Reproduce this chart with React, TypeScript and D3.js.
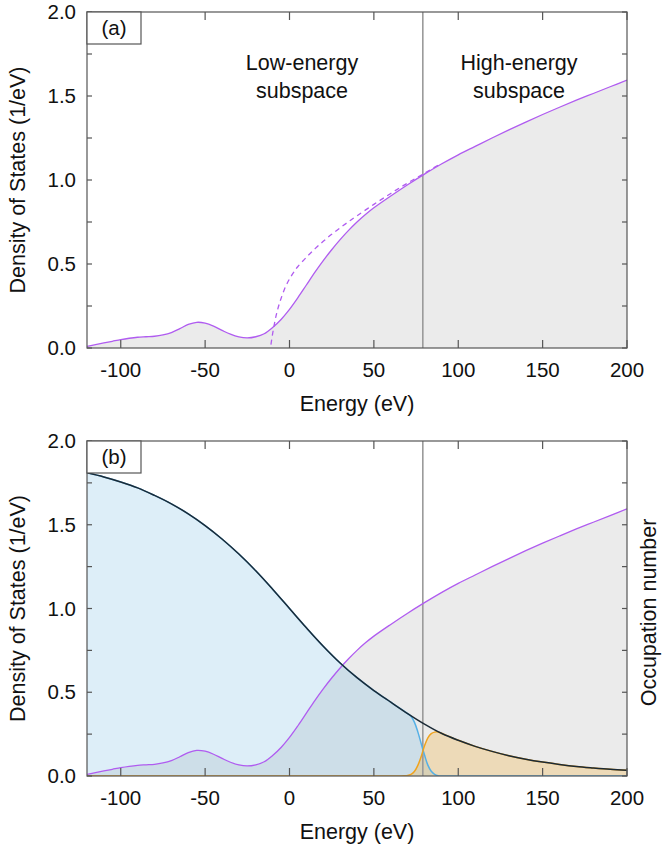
import React, { useEffect, useRef } from 'react';
import * as d3 from 'd3';

// density of states (solid purple)
const dosEnergy = [-120, -115, -110, -105, -100, -95, -90, -85, -80, -75, -70, -65, -60, -55, -50, -45, -40, -35, -30, -25, -20, -15, -10, -5, 0, 5, 10, 15, 20, 25, 30, 35, 40, 45, 50, 60, 70, 80, 90, 100, 110, 120, 130, 140, 150, 160, 170, 180, 190, 200];
const dosValue = [0.01, 0.02, 0.03, 0.04, 0.05, 0.058, 0.064, 0.067, 0.07, 0.078, 0.092, 0.115, 0.14, 0.153, 0.148, 0.13, 0.105, 0.082, 0.066, 0.06, 0.067, 0.085, 0.122, 0.17, 0.23, 0.3, 0.375, 0.45, 0.52, 0.585, 0.645, 0.7, 0.75, 0.795, 0.835, 0.905, 0.972, 1.035, 1.095, 1.15, 1.2, 1.25, 1.298, 1.345, 1.39, 1.433, 1.475, 1.515, 1.555, 1.595];

// free-electron DOS (dashed purple)
const freeEnergy = [-11, -10, -9, -8, -7, -6, -5, -3, -1, 1, 3, 5, 10, 15, 20, 25, 30, 35, 40, 50, 60, 70, 80, 90];
const freeValue = [0.02, 0.085, 0.14, 0.19, 0.23, 0.265, 0.295, 0.35, 0.393, 0.428, 0.458, 0.485, 0.54, 0.59, 0.635, 0.677, 0.715, 0.752, 0.787, 0.855, 0.92, 0.982, 1.04, 1.1];

// occupation number (black)
const occEnergy = [-120, -110, -100, -90, -80, -70, -60, -50, -40, -30, -20, -10, 0, 10, 20, 30, 40, 50, 60, 70, 80, 90, 100, 110, 120, 130, 140, 150, 160, 170, 180, 190, 200];
const occValue = [1.81, 1.785, 1.755, 1.72, 1.675, 1.625, 1.565, 1.495, 1.415, 1.325, 1.225, 1.115, 1.0, 0.885, 0.775, 0.675, 0.587, 0.51, 0.441, 0.373, 0.31, 0.255, 0.213, 0.177, 0.147, 0.121, 0.1, 0.083, 0.069, 0.057, 0.048, 0.04, 0.034];

// low-energy subspace occupation (blue)
const lowEnergy = [-120, -110, -100, -90, -80, -70, -60, -50, -40, -30, -20, -10, 0, 10, 20, 30, 40, 50, 60, 70, 72, 74, 76, 78, 80, 82, 84, 86, 88, 90, 100, 120, 160, 200];
const lowValue = [1.81, 1.785, 1.755, 1.72, 1.675, 1.625, 1.565, 1.495, 1.415, 1.325, 1.225, 1.115, 1.0, 0.885, 0.775, 0.675, 0.587, 0.51, 0.441, 0.373, 0.357, 0.322, 0.265, 0.195, 0.125, 0.065, 0.028, 0.01, 0.002, 0, 0, 0, 0, 0];

// high-energy subspace occupation (orange)
const highEnergy = [-120, -60, 0, 50, 66, 68, 70, 72, 74, 76, 78, 80, 82, 84, 86, 88, 90, 100, 110, 120, 130, 140, 150, 160, 170, 180, 190, 200];
const highValue = [0, 0, 0, 0, 0, 0.001, 0.003, 0.01, 0.027, 0.062, 0.115, 0.18, 0.228, 0.253, 0.262, 0.263, 0.255, 0.213, 0.177, 0.147, 0.121, 0.1, 0.083, 0.069, 0.057, 0.048, 0.04, 0.034];

const xTicks = [-100, -50, 0, 50, 100, 150, 200];
const yTicks = [0, 0.5, 1, 1.5, 2];
const yMinor = [0.25, 0.75, 1.25, 1.75];
const cutoffEnergy = 79;

const W = 663;
const H = 852;
const left = 87;
const right = 627;
const font = 'Liberation Sans, Arial, Helvetica, sans-serif';

type Pt = [number, number];
const zip = (xs: number[], ys: number[]): Pt[] => xs.map((x, i) => [x, ys[i]]);

function drawPanel(root: d3.Selection<SVGGElement, unknown, null, undefined>, top: number, bottom: number, label: string, detailed: boolean) {
  const x = d3.scaleLinear().domain([-120, 200]).range([left, right]);
  const y = d3.scaleLinear().domain([0, 2]).range([bottom, top]);
  const g = root.append('g');

  const curve = d3.curveCatmullRom.alpha(0.5);
  const line = d3.line<Pt>().x(d => x(d[0])).y(d => y(d[1])).curve(curve);
  const area = d3.area<Pt>().x(d => x(d[0])).y0(y(0)).y1(d => y(d[1])).curve(curve);

  const clipId = 'clip-' + label.replace(/\W/g, '');
  g.append('clipPath').attr('id', clipId).append('rect')
    .attr('x', left).attr('y', top).attr('width', right - left).attr('height', bottom - top);
  const plot = g.append('g').attr('clip-path', `url(#${clipId})`);

  const dos = zip(dosEnergy, dosValue);
  plot.append('path').datum(dos).attr('d', area).attr('fill', '#ebebeb');

  if (detailed) {
    plot.append('path').datum(zip(lowEnergy, lowValue)).attr('d', area)
      .attr('fill', 'rgb(101,178,223)').attr('fill-opacity', 0.22);
    plot.append('path').datum(zip(highEnergy, highValue)).attr('d', area)
      .attr('fill', 'rgb(242,185,78)').attr('fill-opacity', 0.32);
  }

  plot.append('line')
    .attr('x1', x(cutoffEnergy)).attr('x2', x(cutoffEnergy))
    .attr('y1', top).attr('y2', bottom)
    .attr('stroke', '#9a9a9a').attr('stroke-width', 1.6);

  if (!detailed) {
    plot.append('path').datum(zip(freeEnergy, freeValue)).attr('d', line)
      .attr('fill', 'none').attr('stroke', '#b05cf0').attr('stroke-width', 1.3)
      .attr('stroke-dasharray', '5,4');
  }
  plot.append('path').datum(dos).attr('d', line)
    .attr('fill', 'none').attr('stroke', '#b05cf0').attr('stroke-width', 1.3);

  if (detailed) {
    plot.append('path').datum(zip(lowEnergy, lowValue)).attr('d', line)
      .attr('fill', 'none').attr('stroke', '#55b0e6').attr('stroke-width', 1.5);
    plot.append('path').datum(zip(highEnergy, highValue)).attr('d', line)
      .attr('fill', 'none').attr('stroke', '#f0a31e').attr('stroke-width', 1.5);
    plot.append('path').datum(zip(occEnergy, occValue)).attr('d', line)
      .attr('fill', 'none').attr('stroke', '#1b2a36').attr('stroke-width', 1.5);
  }

  // frame and inward ticks
  const axisColor = '#555';
  g.append('rect').attr('x', left).attr('y', top).attr('width', right - left).attr('height', bottom - top)
    .attr('fill', 'none').attr('stroke', axisColor).attr('stroke-width', 1.2);

  xTicks.forEach(t => {
    g.append('line').attr('x1', x(t)).attr('x2', x(t)).attr('y1', bottom).attr('y2', bottom - 8)
      .attr('stroke', axisColor).attr('stroke-width', 1.2);
    g.append('line').attr('x1', x(t)).attr('x2', x(t)).attr('y1', top).attr('y2', top + 8)
      .attr('stroke', axisColor).attr('stroke-width', 1.2);
    g.append('text').attr('x', x(t)).attr('y', bottom + 29).attr('text-anchor', 'middle')
      .attr('font-family', font).attr('font-size', 20.5).attr('fill', '#111').text(String(t));
  });

  [...yTicks, ...yMinor].forEach(t => {
    g.append('line').attr('x1', left).attr('x2', left + 5).attr('y1', y(t)).attr('y2', y(t))
      .attr('stroke', axisColor).attr('stroke-width', 1.2);
    g.append('line').attr('x1', right).attr('x2', right - 5).attr('y1', y(t)).attr('y2', y(t))
      .attr('stroke', axisColor).attr('stroke-width', 1.2);
  });
  yTicks.forEach(t => {
    g.append('text').attr('x', 76).attr('y', y(t) + 7).attr('text-anchor', 'end')
      .attr('font-family', font).attr('font-size', 20.5).attr('fill', '#111').text(d3.format('.1f')(t));
  });

  g.append('text').attr('x', (left + right) / 2).attr('y', bottom + 63).attr('text-anchor', 'middle')
    .attr('font-family', font).attr('font-size', 21.5).attr('fill', '#111').text('Energy (eV)');
  g.append('text').attr('transform', `translate(25,${(top + bottom) / 2}) rotate(-90)`)
    .attr('text-anchor', 'middle').attr('font-family', font).attr('font-size', 21.5).attr('fill', '#111')
    .text('Density of States (1/eV)');

  if (detailed) {
    g.append('text').attr('transform', `translate(656,${(top + bottom) / 2 + 4}) rotate(-90)`)
      .attr('text-anchor', 'middle').attr('font-family', font).attr('font-size', 21.5).attr('fill', '#111')
      .text('Occupation number');
  } else {
    const notes: [number, string, string][] = [[302, 'Low-energy', 'subspace'], [519, 'High-energy', 'subspace']];
    notes.forEach(([cx, a, b]) => {
      g.append('text').attr('x', cx).attr('y', top + 58).attr('text-anchor', 'middle')
        .attr('font-family', font).attr('font-size', 21.5).attr('fill', '#111').text(a);
      g.append('text').attr('x', cx).attr('y', top + 86).attr('text-anchor', 'middle')
        .attr('font-family', font).attr('font-size', 21.5).attr('fill', '#111').text(b);
    });
  }

  // panel label box
  g.append('rect').attr('x', left).attr('y', top).attr('width', 54).attr('height', 32)
    .attr('fill', '#fff').attr('stroke', axisColor).attr('stroke-width', 1.2);
  g.append('text').attr('x', left + 27).attr('y', top + 23).attr('text-anchor', 'middle')
    .attr('font-family', font).attr('font-size', 20.5).attr('fill', '#111').text(label);
}

const App: React.FC = () => {
  const svgRef = useRef<SVGSVGElement>(null);

  useEffect(() => {
    if (!svgRef.current) return;
    const svg = d3.select(svgRef.current);
    svg.selectAll('*').remove();
    const root = svg.append('g');
    drawPanel(root, 12, 348, '(a)', false);
    drawPanel(root, 441, 776, '(b)', true);
  }, []);

  return (
    <svg ref={svgRef} width={W} height={H}
      style={{ position: 'absolute', left: 0, top: 0, background: '#fff', display: 'block' }} />
  );
};

export default App;
